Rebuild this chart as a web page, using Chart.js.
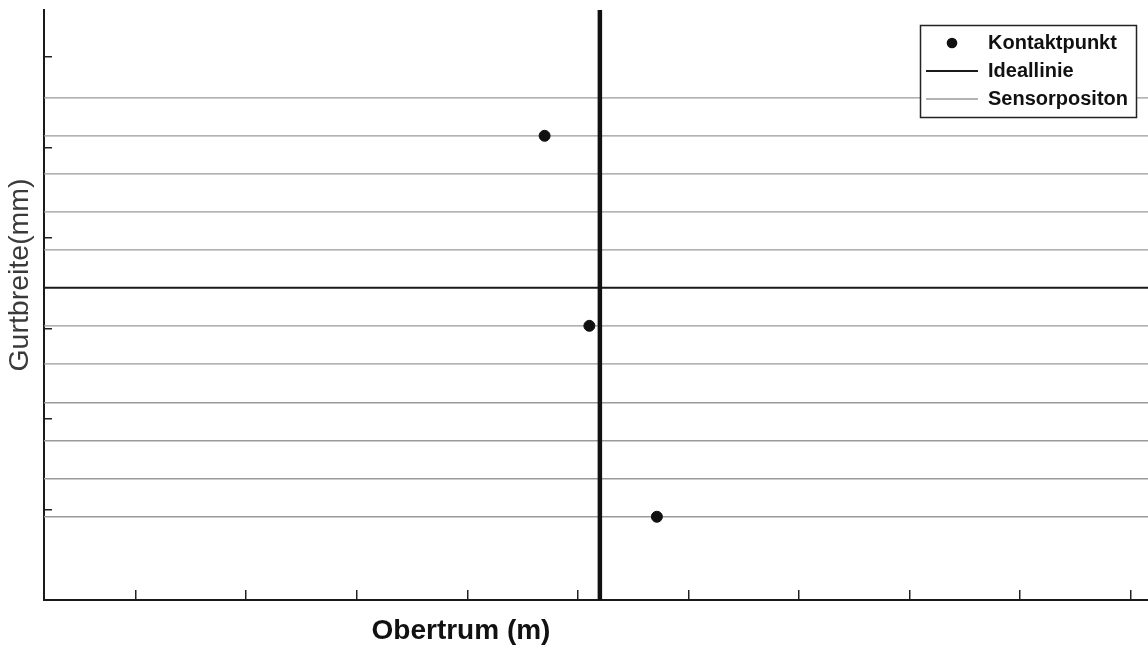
<!DOCTYPE html>
<html>
<head>
<meta charset="utf-8">
<script src="https://cdn.jsdelivr.net/npm/chart.js@4.4.1/dist/chart.umd.min.js"></script>
<style>
  html, body { margin: 0; padding: 0; background: #fff; }
  #wrap { width: 1148px; height: 648px; }
</style>
</head>
<body>
<div id="wrap"><canvas id="myChart" width="1148" height="648"></canvas></div>
<script>
// values (x = Obertrum in m, y = Gurtbreite in mm)
const contactX = [4.70, 5.105, 5.716];
const contactY = [513, 303, 92];
const idealY = 345;
const centerX = 5.2;
const sensorY = [92, 134, 176, 218, 261, 303, 387, 429, 471, 513, 555];

const xMin = 0.17, xMax = 10.16;
const yMin = 0, yMax = 652;
const xTicks = [1, 2, 3, 4, 5, 6, 7, 8, 9, 10];
const yTicks = [0, 100, 200, 300, 400, 500, 600];

const xTitle = 'Obertrum (m)';
const yTitle = 'Gurtbreite(mm)';

// build the point lists the library needs
const contactData = contactX.map((x, i) => ({x: x, y: contactY[i]}));
const idealData = [{x: xMin, y: idealY}, {x: xMax, y: idealY}];
const centerData = [{x: centerX, y: yMin}, {x: centerX, y: yMax}];
const sensorData = [];
sensorY.forEach(y => {
  // null point breaks the line between sensors
  sensorData.push({x: xMin, y: y}, {x: xMax, y: y}, {x: xMax, y: null});
});

// small dot used as legend symbol for the contact points
const dotImg = document.createElement('canvas');
dotImg.width = 12;
dotImg.height = 12;
const dctx = dotImg.getContext('2d');
dctx.fillStyle = '#111';
dctx.beginPath();
dctx.arc(6, 6, 5.3, 0, Math.PI * 2);
dctx.fill();

const FONT = "'Liberation Sans', Arial, Helvetica, sans-serif";

// legend sits inside the plot, top right, with a frame round it
const legendBox = {
  id: 'legendBox',
  afterLayout(chart) {
    const lg = chart.legend;
    lg.left = chart.chartArea.right - 230;
    lg.right = lg.left + 218;
    lg.top = chart.chartArea.top + 15;
    lg.bottom = chart.chartArea.bottom;
  },
  afterDatasetsDraw(chart) {
    const lg = chart.legend;
    const ctx = chart.ctx;
    ctx.save();
    ctx.fillStyle = '#fff';
    ctx.fillRect(lg.left + 2, lg.top, 216, 92);
    ctx.strokeStyle = '#222';
    ctx.lineWidth = 1.5;
    ctx.strokeRect(lg.left + 2.5, lg.top + 0.5, 216, 92);
    ctx.restore();
    lg.draw();
  }
};

// axis titles, placed where the scan has them
const axisTitles = {
  id: 'axisTitles',
  afterDraw(chart) {
    const ctx = chart.ctx;
    const area = chart.chartArea;
    ctx.save();
    ctx.textAlign = 'center';
    ctx.textBaseline = 'middle';
    ctx.fillStyle = '#111';
    ctx.font = 'bold 28px ' + FONT;
    ctx.fillText(xTitle, area.left + 417, area.bottom + 31);
    ctx.translate(20, area.top + 265);
    ctx.rotate(-Math.PI / 2);
    ctx.fillStyle = '#3a3a3a';
    ctx.font = '28.5px ' + FONT;
    ctx.fillText(yTitle, 0, 0);
    ctx.restore();
  }
};

const data = {
  datasets: [{
    label: 'Kontaktpunkt',
    data: contactData,
    pointRadius: 5.5,
    pointBackgroundColor: '#111',
    pointBorderColor: '#111',
    showLine: false
  }, {
    label: '',
    data: centerData,
    showLine: true,
    borderColor: '#111',
    borderWidth: 4.5,
    pointRadius: 0
  }, {
    label: 'Ideallinie',
    data: idealData,
    showLine: true,
    borderColor: '#1a1a1a',
    borderWidth: 2,
    pointRadius: 0
  }, {
    label: 'Sensorpositon',
    data: sensorData,
    showLine: true,
    spanGaps: false,
    borderColor: '#9a9a9a',
    borderWidth: 1.3,
    pointRadius: 0
  }]
};

const config = {
  type: 'scatter',
  data: data,
  options: {
    responsive: false,
    animation: false,
    devicePixelRatio: 1,
    layout: { autoPadding: false, padding: { top: 10, right: 0, bottom: 0, left: 0 } },
    scales: {
      x: {
        type: 'linear',
        min: xMin,
        max: xMax,
        afterBuildTicks: s => { s.ticks = xTicks.map(v => ({value: v})); },
        afterFit: s => { s.height = 48; },
        ticks: { display: false },
        grid: { drawOnChartArea: false, drawTicks: true, tickLength: -10, color: '#222', lineWidth: 1.5 },
        border: { display: true, color: '#1a1a1a', width: 2 }
      },
      y: {
        type: 'linear',
        min: yMin,
        max: yMax,
        afterBuildTicks: s => { s.ticks = yTicks.map(v => ({value: v})); },
        afterFit: s => { s.width = 44; },
        ticks: { display: false },
        grid: { drawOnChartArea: false, drawTicks: true, tickLength: -8, color: '#222', lineWidth: 1.5 },
        border: { display: true, color: '#1a1a1a', width: 2 }
      }
    },
    plugins: {
      tooltip: { enabled: false },
      legend: {
        position: 'chartArea',
        align: 'start',
        labels: {
          usePointStyle: true,
          pointStyleWidth: 52,
          boxHeight: 10,
          padding: 8,
          color: '#111',
          font: { family: FONT, size: 20, weight: 'bold' },
          filter: item => item.text !== '',
          generateLabels: function(chart) {
            const items = Chart.defaults.plugins.legend.labels.generateLabels(chart);
            items.forEach(it => {
              it.pointStyle = it.datasetIndex === 0 ? dotImg : 'line';
            });
            return items;
          }
        }
      }
    }
  },
  plugins: [legendBox, axisTitles]
};

const myChart = new Chart(document.getElementById('myChart'), config);
</script>
</body>
</html>
